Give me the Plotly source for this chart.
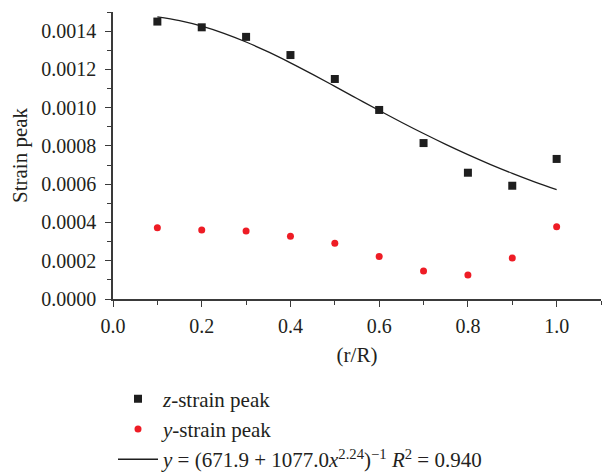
import plotly.graph_objects as go

# Data
r_over_R = [0.1, 0.2, 0.3, 0.4, 0.5, 0.6, 0.7, 0.8, 0.9, 1.0]
z_strain_peak = [0.001450, 0.001420, 0.001370, 0.001275, 0.001150, 0.000988, 0.000815, 0.000660, 0.000592, 0.000732]
y_strain_peak = [0.000372, 0.000360, 0.000355, 0.000328, 0.000292, 0.000222, 0.000146, 0.000125, 0.000214, 0.000378]

# Fitted curve samples (y = (671.9 + 1077.0 x^2.24)^-1)
fit_x = [0.1, 0.15, 0.2, 0.25, 0.3, 0.35, 0.4, 0.45, 0.5, 0.55, 0.6, 0.65, 0.7, 0.75, 0.8, 0.85, 0.9, 0.95, 1.0]
fit_y = [0.0014747, 0.0014550, 0.0014262, 0.0013886, 0.0013432, 0.0012912, 0.0012342, 0.0011738,
         0.0011112, 0.0010480, 0.0009853, 0.0009240, 0.0008648, 0.0008082, 0.0007546, 0.0007041,
         0.0006568, 0.0006127, 0.0005718]

y_ticks = [0.0, 0.0002, 0.0004, 0.0006, 0.0008, 0.0010, 0.0012, 0.0014]
y_ticklabels = ["0.0000", "0.0002", "0.0004", "0.0006", "0.0008", "0.0010", "0.0012", "0.0014"]
x_ticks = [0.0, 0.2, 0.4, 0.6, 0.8, 1.0]
x_ticklabels = ["0.0", "0.2", "0.4", "0.6", "0.8", "1.0"]

FONT = "Liberation Serif"
AX = "#3a3a3a"
TXT = "#231f20"

fig = go.Figure()
fig.add_trace(go.Scatter(
    x=r_over_R, y=z_strain_peak, mode="markers",
    marker=dict(symbol="square", size=8, color="#1e1e1e"),
    name="<i>z</i>-strain peak"))
fig.add_trace(go.Scatter(
    x=r_over_R, y=y_strain_peak, mode="markers",
    marker=dict(symbol="circle", size=7, color="#ee1c25"),
    name="<i>y</i>-strain peak"))
fig.add_trace(go.Scatter(
    x=fit_x, y=fit_y, mode="lines", line=dict(color="#1e1e1e", width=1.3, shape="spline"),
    name="<i>y</i> = (671.9 + 1077.0<i>x</i><sup>2.24</sup>)<sup>−1</sup> <i>R</i><sup>2</sup> = 0.940"))

axis_common = dict(
    showline=True, linecolor=AX, linewidth=1.5, ticks="outside", tickcolor=AX,
    ticklen=6, tickwidth=1.2, showgrid=False, zeroline=False,
    tickfont=dict(family=FONT, size=20, color=TXT),
)

fig.update_layout(
    width=611, height=475,
    margin=dict(l=113, r=10, t=12, b=176, autoexpand=False),
    plot_bgcolor="white", paper_bgcolor="white",
    font=dict(family=FONT, size=20, color=TXT),
    showlegend=True,
    legend=dict(x=0.0, y=-0.277, xanchor="left", yanchor="top",
                font=dict(family=FONT, size=21, color=TXT),
                bgcolor="rgba(0,0,0,0)", tracegroupgap=0, itemwidth=40),
    xaxis=dict(range=[0, 1.1], tickvals=x_ticks, ticktext=x_ticklabels,
               minor=dict(dtick=0.1, ticks="outside", ticklen=4, tickcolor=AX, tickwidth=1.2),
               title=dict(text="(r/R)", font=dict(family=FONT, size=21, color=TXT), standoff=12),
               ticklabelstandoff=2,
               **axis_common),
    yaxis=dict(range=[0, 0.0015], tickvals=y_ticks, ticktext=y_ticklabels,
               minor=dict(dtick=0.0001, ticks="outside", ticklen=4, tickcolor=AX, tickwidth=1.2),
               title=dict(text="Strain peak", font=dict(family=FONT, size=21, color=TXT), standoff=8),
               ticklabelstandoff=5,
               **axis_common),
)

fig.write_html("out.html")
